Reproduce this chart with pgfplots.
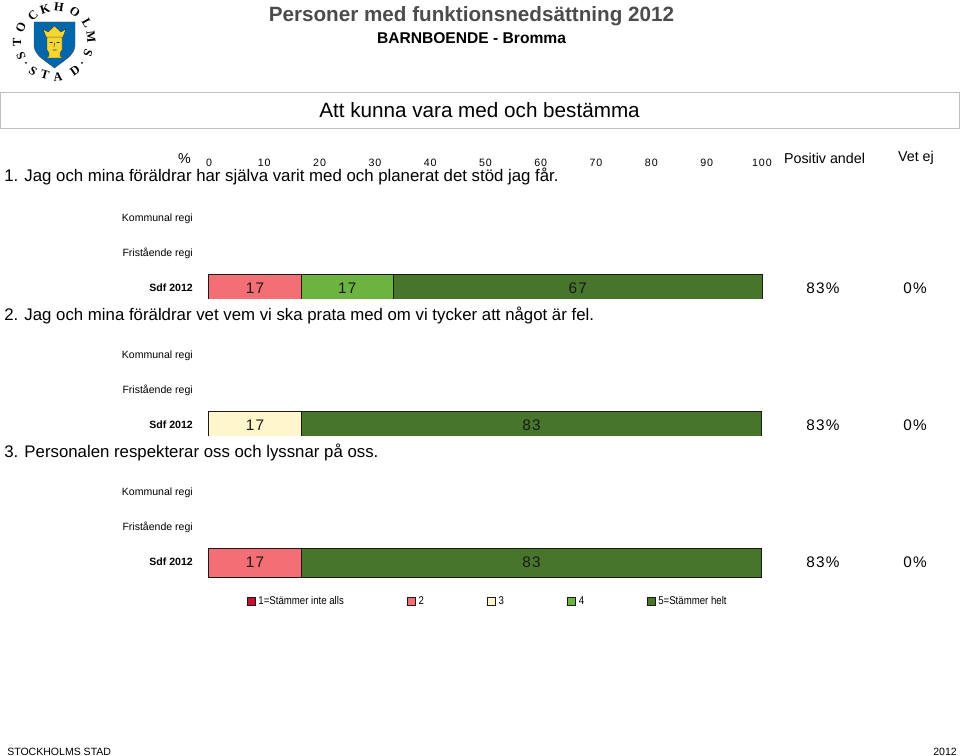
\documentclass[border=0pt]{standalone}
\usepackage{fontspec}
\setmainfont{Liberation Sans}
\newfontfamily\serifb{Liberation Serif}
\usepackage{pgfplots}
\pgfplotsset{compat=1.18}
\definecolor{cA}{HTML}{C8102E}
\definecolor{cB}{HTML}{F46E75}
\definecolor{cC}{HTML}{FFF6CC}
\definecolor{cD}{HTML}{6DB33F}
\definecolor{cE}{HTML}{47752B}
\definecolor{edge}{HTML}{1A1A1A}
\definecolor{shield}{RGB}{0,103,172}
\definecolor{gold}{RGB}{245,215,50}
\newcommand{\lsp}{\addfontfeature{LetterSpace=8}}
\pgfplotsset{
 panel/.style={
  at={(152.6pt,#1)}, anchor=north west,
  scale only axis, width=423pt,
  xbar stacked, bar width=21.75pt, bar shift=0pt,
  xmin=-1, xmax=101,
  ytick={0,1,2}, yticklabels={\textbf{Sdf 2012},Fristående regi,Kommunal regi},
  yticklabel style={font=\fontsize{7.9}{10}\selectfont, anchor=east, xshift=-4.5pt, yshift=0.3pt},
  axis line style={draw=none}, tick style={draw=none},
  point meta=explicit,
  every axis plot/.append style={draw=edge, line width=0.75pt},
  every node near coord/.style={font=\fontsize{11.5}{14}\selectfont\lsp, color=black!90, anchor=center},
  nodes near coords align={center},
  /pgf/number format/.cd, fixed, precision=0, assume math mode=true,
 },
}
\begin{document}
\begin{tikzpicture}[x=0.75pt,y=-0.75pt]
\path[use as bounding box] (0,0) rectangle (960,756);
% logo
\path[fill=shield,draw=black!70,line width=0.3pt]
 (34,22) -- (75,22) -- (75,46) .. controls (74,56) and (63,61) .. (54.5,68) .. controls (46,61) and (35,56) .. (34,46) -- cycle;
\path[fill=gold,draw=black!80,line width=0.3pt]
 (47,37) -- (62,37) -- (62,50) -- (60,53) -- (60,56) -- (63,58) -- (46,58) -- (49,56) -- (49,53) -- (47,50) -- cycle;
\path[fill=gold,draw=black!80,line width=0.3pt]
 (43,29) -- (48,32) -- (54.5,26) -- (61,32) -- (66,29) -- (63,37) -- (46,37) -- cycle;
\draw[black!80,line width=0.4pt] (49.5,42.5) -- (52.5,42.5) (56.5,42.5) -- (59.5,42.5) (54.5,43) -- (54,47) (52.5,50) -- (56.5,50);
\foreach \c/\x/\y/\r in {S/21/56/114,T/17/42/90,O/21/27/66,C/33/16/42,K/45/9/17,H/59/7/-8,O/75/12/-35,L/87/23/-60,M/91/37/-84,S/88/53/-110,S/33/71/-35,T/45/75/-15,A/58/77/6,D/75/71/35}{
 \node[font=\serifb\bfseries\fontsize{9.3}{11}\selectfont, rotate=\r, inner sep=0pt] at (\x,\y) {\c};}
\fill[black] (26,63) circle (1) (82,63) circle (1);
% titles
\node[font=\bfseries\fontsize{15.5}{18}\selectfont, color=black!70, inner sep=0pt] at (471.5,16) {Personer med funktionsnedsättning 2012};
\node[font=\bfseries\fontsize{11.7}{14}\selectfont, inner sep=0pt] at (471.5,38.5) {BARNBOENDE - Bromma};
\draw[black!25, line width=0.9pt] (0.5,92.5) rectangle (960,128.5);
\node[font=\fontsize{15.5}{18}\selectfont, inner sep=0pt] at (479.5,110) {Att kunna vara med och bestämma};
% header
\node[font=\fontsize{10.7}{13}\selectfont, inner sep=0pt] at (184.5,158.5) {\%};
\node[font=\fontsize{10.7}{13}\selectfont, inner sep=0pt] at (824.5,158) {Positiv andel};
\node[font=\fontsize{10.7}{13}\selectfont, inner sep=0pt] at (916,158) {Vet ej};
% questions
\tikzset{q/.style={font=\fontsize{12.6}{14}\selectfont, anchor=base west, inner sep=0pt}}
\node[q] at (4,182) {1. Jag och mina föräldrar har själva varit med och planerat det stöd jag får.};
\node[q] at (4,320) {2. Jag och mina föräldrar vet vem vi ska prata med om vi tycker att något är fel.};
\node[q] at (4,457) {3. Personalen respekterar oss och lyssnar på oss.};
% percentages
\tikzset{p/.style={font=\fontsize{11.5}{14}\selectfont\lsp, inner sep=0pt}}
\node[p] at (823,288) {83\%}; \node[p] at (915,288) {0\%};
\node[p] at (823,425.5) {83\%}; \node[p] at (915,425.5) {0\%};
\node[p] at (823,562.5) {83\%}; \node[p] at (915,562.5) {0\%};
% panel 1
\begin{axis}[panel=-127.5pt, height=96.2pt, ymin=-0.283, ymax=3.435,
  xtick={0,10,...,100}, xticklabel pos=top,
  x tick label style={font=\fontsize{8}{10}\selectfont\lsp, yshift=2.5pt, inner sep=0pt}, major tick length=0pt]
\addplot[fill=cB, nodes near coords] coordinates {(16.67,0) [16.67]};
\addplot[fill=cD, nodes near coords] coordinates {(16.67,0) [16.67]};
\addplot[fill=cE, nodes near coords] coordinates {(66.67,0) [66.67]};
\end{axis}
% panel 2
\begin{axis}[panel=-254.5pt, height=71.96pt, ymin=-0.283, ymax=2.5, xtick=\empty]
\addplot[fill=cC, nodes near coords] coordinates {(16.67,0) [16.67]};
\addplot[fill=cE, nodes near coords] coordinates {(83.33,0) [83.33]};
\end{axis}
% panel 3
\begin{axis}[panel=-357.2pt, height=76.3pt, ymin=-0.449, ymax=2.5, xtick=\empty,
  legend columns=5,
  legend style={at={(32.65pt,-11.8pt)}, anchor=north west, draw=none, fill=none, inner sep=0pt, outer sep=0pt,
    font=\fontsize{8.4}{10}\selectfont\addfontfeature{FakeStretch=0.86}, column sep=0pt},
  legend image code/.code={\draw[draw=edge,line width=0.6pt,#1] (0pt,-2.8pt) rectangle (6pt,2.8pt);},
  ]
\addlegendimage{fill=cA}\addlegendentry{\makebox[109.5pt][l]{1=Stämmer inte alls}}
\addlegendimage{fill=cB}\addlegendentry{\makebox[49.5pt][l]{2}}
\addlegendimage{fill=cC}\addlegendentry{\makebox[49.5pt][l]{3}}
\addlegendimage{fill=cD}\addlegendentry{\makebox[49pt][l]{4}}
\addlegendimage{fill=cE}\addlegendentry{5=Stämmer helt}
\addplot[fill=cB, nodes near coords, forget plot] coordinates {(16.67,0) [16.67]};
\addplot[fill=cE, nodes near coords, forget plot] coordinates {(83.33,0) [83.33]};
\end{axis}
% footer
\node[font=\fontsize{7.9}{10}\selectfont, anchor=base west, inner sep=0pt] at (7,755.5) {STOCKHOLMS STAD};
\node[font=\fontsize{7.9}{10}\selectfont, anchor=base east, inner sep=0pt] at (957,755.5) {2012};
\end{tikzpicture}
\end{document}
